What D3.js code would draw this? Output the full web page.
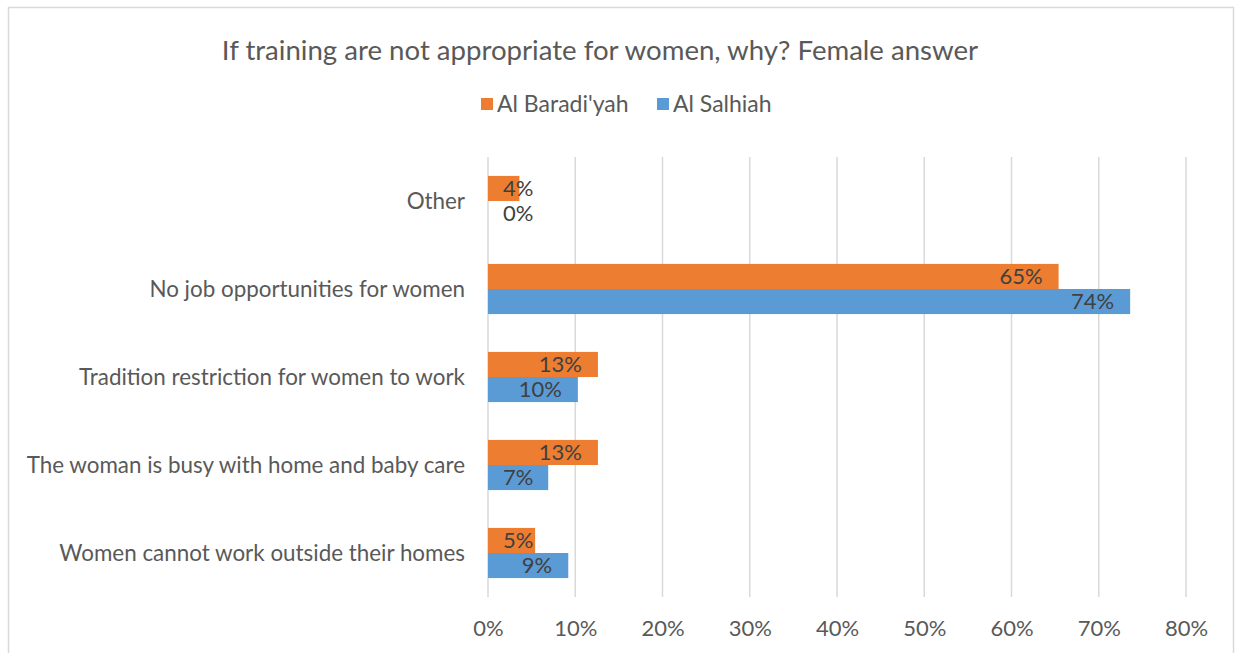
<!DOCTYPE html>
<html>
<head>
<meta charset="utf-8">
<script src="https://cdn.jsdelivr.net/npm/d3@7"></script>
<style>
  body { margin: 0; background: #fff; }
  text { font-family: Lato, "Open Sans", sans-serif; fill: #595959; }
</style>
</head>
<body>
<div class="chart"></div>
<script>
var svgWidth = 1236;
var svgHeight = 653;

// chart data, top to bottom
var categories = [
  "Other",
  "No job opportunities for women",
  "Tradition restriction for women to work",
  "The woman is busy with home and baby care",
  "Women cannot work outside their homes"
];
var seriesNames = ["Al Baradi'yah", "Al Salhiah"];
var baradiyah = [3.6, 65.4, 12.6, 12.6, 5.4];
var salhiah = [0, 73.6, 10.3, 6.9, 9.2];
var xTicks = [0, 10, 20, 30, 40, 50, 60, 70, 80];
var colors = ["#ED7D31", "#5B9BD5"];

var margin = { top: 157, right: 50, bottom: 56, left: 488 };
var width = svgWidth - margin.left - margin.right;
var height = svgHeight - margin.top - margin.bottom;

var svg = d3.select(".chart")
  .append("svg")
  .attr("width", svgWidth)
  .attr("height", svgHeight);

// outer frame
svg.append("rect")
  .attr("x", 8.5)
  .attr("y", 7.5)
  .attr("width", 1225)
  .attr("height", 660)
  .attr("fill", "none")
  .attr("stroke", "#d9d9d9")
  .attr("stroke-width", 1.5);

svg.append("text")
  .attr("x", 600)
  .attr("y", 60)
  .attr("text-anchor", "middle")
  .style("font-size", "27.6px")
  .text("If training are not appropriate for women, why? Female answer");

// legend
var legendX = [481, 657];
seriesNames.forEach(function(name, i) {
  svg.append("rect")
    .attr("x", legendX[i])
    .attr("y", 98)
    .attr("width", 12)
    .attr("height", 12)
    .attr("fill", colors[i]);
  svg.append("text")
    .attr("x", legendX[i] + 16)
    .attr("y", 112)
    .style("font-size", "23px")
    .text(name);
});

var chartGroup = svg.append("g")
  .attr("transform", `translate(${margin.left}, ${margin.top})`);

var xLinearScale = d3.scaleLinear()
  .domain([0, 80])
  .range([0, width]);

var yBand = d3.scaleBand()
  .domain(categories)
  .range([0, height])
  .paddingInner(0.43)
  .paddingOuter(0.215);

var ySub = d3.scaleBand()
  .domain(seriesNames)
  .range([0, yBand.bandwidth()]);

// gridlines
chartGroup.append("g")
  .selectAll("line")
  .data(xTicks)
  .enter()
  .append("line")
  .attr("x1", d => xLinearScale(d))
  .attr("x2", d => xLinearScale(d))
  .attr("y1", 0)
  .attr("y2", height)
  .attr("stroke", "#d9d9d9")
  .attr("stroke-width", 1.5);

var bottomAxis = d3.axisBottom(xLinearScale)
  .tickValues(xTicks)
  .tickFormat(d => d + "%")
  .tickSize(0)
  .tickPadding(23);

var xAxisGroup = chartGroup.append("g")
  .attr("transform", `translate(0, ${height})`)
  .call(bottomAxis);
xAxisGroup.select(".domain").remove();
xAxisGroup.selectAll("text")
  .style("font-size", "22px")
  .attr("fill", "#595959")
  .style("font-family", "Lato, sans-serif");

// category labels
chartGroup.selectAll(".catLabel")
  .data(categories)
  .enter()
  .append("text")
  .attr("class", "catLabel")
  .attr("x", -23)
  .attr("y", d => yBand(d) + yBand.bandwidth() / 2)
  .attr("dy", "0.35em")
  .attr("text-anchor", "end")
  .style("font-size", "22.4px")
  .text(d => d);

var rows = [];
categories.forEach(function(c, i) {
  rows.push({ cat: c, series: seriesNames[0], value: baradiyah[i], color: colors[0] });
  rows.push({ cat: c, series: seriesNames[1], value: salhiah[i], color: colors[1] });
});

chartGroup.selectAll(".bar")
  .data(rows)
  .enter()
  .append("rect")
  .attr("class", "bar")
  .attr("x", 0)
  .attr("y", d => yBand(d.cat) + ySub(d.series))
  .attr("width", d => xLinearScale(d.value))
  .attr("height", ySub.bandwidth())
  .attr("fill", d => d.color);

// data labels, inside end
chartGroup.selectAll(".valLabel")
  .data(rows)
  .enter()
  .append("text")
  .attr("class", "valLabel")
  .attr("y", d => yBand(d.cat) + ySub(d.series) + ySub.bandwidth() / 2)
  .attr("dy", "0.35em")
  .attr("text-anchor", "end")
  .style("font-size", "22px")
  .style("fill", "#404040")
  .text(d => Math.round(d.value) + "%")
  .attr("x", function(d) {
    var w = this.getComputedTextLength();
    return Math.max(xLinearScale(d.value) - 16, 15 + w);
  });
</script>
</body>
</html>
